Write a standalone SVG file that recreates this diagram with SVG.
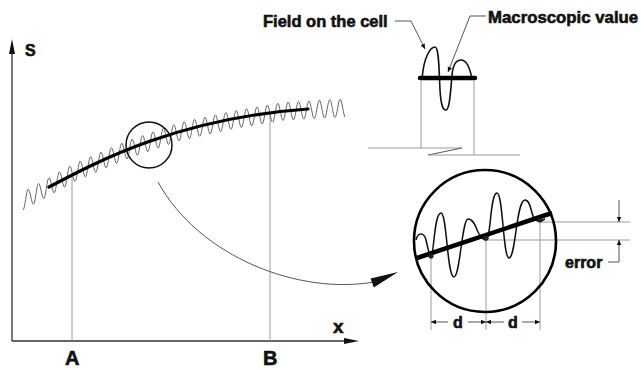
<svg xmlns="http://www.w3.org/2000/svg" width="641" height="370" viewBox="0 0 641 370">
<style>
.lbl{font-family:"Liberation Sans",Arial,sans-serif;font-weight:bold;fill:#111;stroke:#111;stroke-width:0.6}
.guide{stroke:#9a9a9a;stroke-width:1;fill:none}
.thin{stroke:#555;stroke-width:1;fill:none}
.axis{stroke:#333;stroke-width:1.3;fill:none}
.thick{stroke:#000;stroke-width:3.2;fill:none;stroke-linecap:round}
.wave{stroke:#666;stroke-width:1;fill:none}
</style>
<defs>
<marker id="ah" viewBox="0 0 10 10" refX="10" refY="5" markerWidth="6" markerHeight="5" orient="auto" markerUnits="userSpaceOnUse">
<path d="M0,0.5 L10,5 L0,9.5 z" fill="#111"/>
</marker>
</defs>
<rect width="641" height="370" fill="#fff"/>

<g id="axes">
<line class="axis" x1="12" y1="341" x2="12" y2="50"/>
<polygon points="12,39 9,54 15,54" fill="#111"/>
<line class="axis" x1="12" y1="341" x2="346" y2="341"/>
<polygon points="359,341 344,338 344,344" fill="#111"/>
<text class="lbl" x="25" y="56" font-size="16">S</text>
<text class="lbl" x="333" y="333" font-size="19">x</text>
<text class="lbl" x="65" y="365" font-size="20">A</text>
<text class="lbl" x="263" y="365" font-size="20">B</text>
<line class="guide" x1="72" y1="174" x2="72" y2="341"/>
<line class="guide" x1="270" y1="113" x2="270" y2="341"/>
</g>

<g id="signal">
<path class="wave" d="M23,210 c1.9,0 3.3,-20.86 5.2,-20.86 s3.3,15.14 5.2,15.14 s3.3,-20.86 5.2,-20.86 s3.3,15.14 5.2,15.14 s3.3,-20.86 5.2,-20.86 s3.3,15.14 5.2,15.14 s3.3,-20.86 5.2,-20.86 s3.3,15.14 5.2,15.14 s3.3,-20.86 5.2,-20.86 s3.3,15.14 5.2,15.14
 s3.3,-20.25 5.2,-20.25 s3.3,15.75 5.2,15.75 s3.3,-20.25 5.2,-20.25 s3.3,15.75 5.2,15.75 s3.3,-20.25 5.2,-20.25 s3.3,15.75 5.2,15.75 s3.3,-20.25 5.2,-20.25 s3.3,15.75 5.2,15.75 s3.3,-20.25 5.2,-20.25 s3.3,15.75 5.2,15.75
 s3.3,-19.8 5.2,-19.8 s3.3,16.2 5.2,16.2 s3.3,-19.8 5.2,-19.8 s3.3,16.2 5.2,16.2 s3.3,-19.8 5.2,-19.8 s3.3,16.2 5.2,16.2 s3.3,-19.8 5.2,-19.8 s3.3,16.2 5.2,16.2 s3.3,-19.8 5.2,-19.8 s3.3,16.2 5.2,16.2
 s3.3,-19.15 5.2,-19.15 s3.3,16.85 5.2,16.85 s3.3,-19.15 5.2,-19.15 s3.3,16.85 5.2,16.85 s3.3,-19.15 5.2,-19.15 s3.3,16.85 5.2,16.85 s3.3,-19.15 5.2,-19.15 s3.3,16.85 5.2,16.85 s3.3,-19.15 5.2,-19.15 s3.3,16.85 5.2,16.85
 s3.3,-18.9 5.2,-18.9 s3.3,17.1 5.2,17.1 s3.3,-18.9 5.2,-18.9 s3.3,17.1 5.2,17.1 s3.3,-18.9 5.2,-18.9 s3.3,17.1 5.2,17.1 s3.3,-18.9 5.2,-18.9 s3.3,17.1 5.2,17.1 s3.3,-18.9 5.2,-18.9 s3.3,17.1 5.2,17.1
 s3.3,-18.3 5.2,-18.3 s3.3,17.7 5.2,17.7 s3.3,-18.3 5.2,-18.3 s3.3,17.7 5.2,17.7 s3.3,-18.3 5.2,-18.3 s3.3,17.7 5.2,17.7 s3.3,-18.3 5.2,-18.3 s3.3,17.7 5.2,17.7 s3.3,-18.3 5.2,-18.3 s3.3,17.7 5.2,17.7
 s3.3,-18.1 5.2,-18.1 s3.3,17.9 5.2,17.9"/>
<path class="thick" d="M49,187 C100,160 180,118 308,109"/>
<circle cx="149" cy="145" r="23" fill="none" stroke="#111" stroke-width="1.5"/>
</g>

<g id="cell-detail">
<path d="M422,79 C424,55 431,47 435,47 C439,47 439,70 440,90 C441,106 443,110 446,110 C450,110 451,85 452,75 C453,64 456,60 461,60 C467,60 470,68 472,79" fill="none" stroke="#111" stroke-width="1.6"/>
<line x1="420" y1="78" x2="475" y2="78" stroke="#000" stroke-width="4.5" stroke-linecap="round"/>
<line class="guide" x1="421" y1="80" x2="421" y2="148"/>
<line class="guide" x1="474" y1="80" x2="474" y2="155"/>
<line class="guide" x1="368" y1="148" x2="462" y2="148"/>
<line class="thin" x1="428" y1="155" x2="462" y2="148"/>
<line class="guide" x1="428" y1="155" x2="520" y2="155"/>
<text class="lbl" x="263" y="27" font-size="16.5">Field on the cell</text>
<text class="lbl" x="488" y="23" font-size="16.8">Macroscopic value</text>
</g>

<g id="magnified">
<line class="guide" x1="486" y1="240" x2="630" y2="240"/>
<line class="guide" x1="542" y1="222" x2="630" y2="222"/>
<line class="guide" x1="431" y1="256" x2="431" y2="330"/>
<line class="guide" x1="486" y1="238" x2="486" y2="330"/>
<line class="guide" x1="540" y1="220" x2="540" y2="330"/>
<path d="M416,240 C418,232 424,232 426,240 C428,248 429,256 431,256 C434,256 434,213 441,213 C447,213 447,277 454,277 C460,277 462,219 468,219 C474,219 476,228 478,232 C480,236 483,240 486,240 C491,240 490,193 497,193 C503,193 503,258 509,258 C516,258 516,200 525,200 C531,200 531,214 534,218 C536,222 540,222 545,219" fill="none" stroke="#111" stroke-width="1.5"/>
<line x1="417" y1="258" x2="552" y2="213" stroke="#000" stroke-width="4.5"/>
<circle cx="431" cy="256" r="2.6" fill="#222"/>
<circle cx="486" cy="238" r="2.6" fill="#222"/>
<circle cx="540" cy="220" r="2.6" fill="#222"/>
<circle cx="485" cy="241" r="71" fill="none" stroke="#000" stroke-width="2.6"/>
<text class="lbl" x="453" y="328" font-size="16">d</text>
<text class="lbl" x="508" y="328" font-size="16">d</text>
<text class="lbl" x="565" y="268" font-size="16">error</text>
</g>

<g id="connectors">
<path class="thin" d="M158,182 C200,258 300,295 374,282"/>
<polygon points="398,272 370.6,278.6 373.8,287.4" fill="#111"/>
<polyline class="thin" points="395,21 411,21 425,49" marker-end="url(#ah)"/>
<polyline class="thin" points="486,16 470,16 448,72" marker-end="url(#ah)"/>
<line class="thin" x1="448" y1="322" x2="431" y2="322" marker-end="url(#ah)"/>
<line class="thin" x1="468" y1="322" x2="486" y2="322" marker-end="url(#ah)"/>
<line class="thin" x1="504" y1="322" x2="486" y2="322" marker-end="url(#ah)"/>
<line class="thin" x1="522" y1="322" x2="540" y2="322" marker-end="url(#ah)"/>
<line class="thin" x1="619" y1="200" x2="619" y2="222" marker-end="url(#ah)"/>
<polyline class="thin" points="608,262 619,262 619,240" marker-end="url(#ah)"/>
</g>
</svg>
